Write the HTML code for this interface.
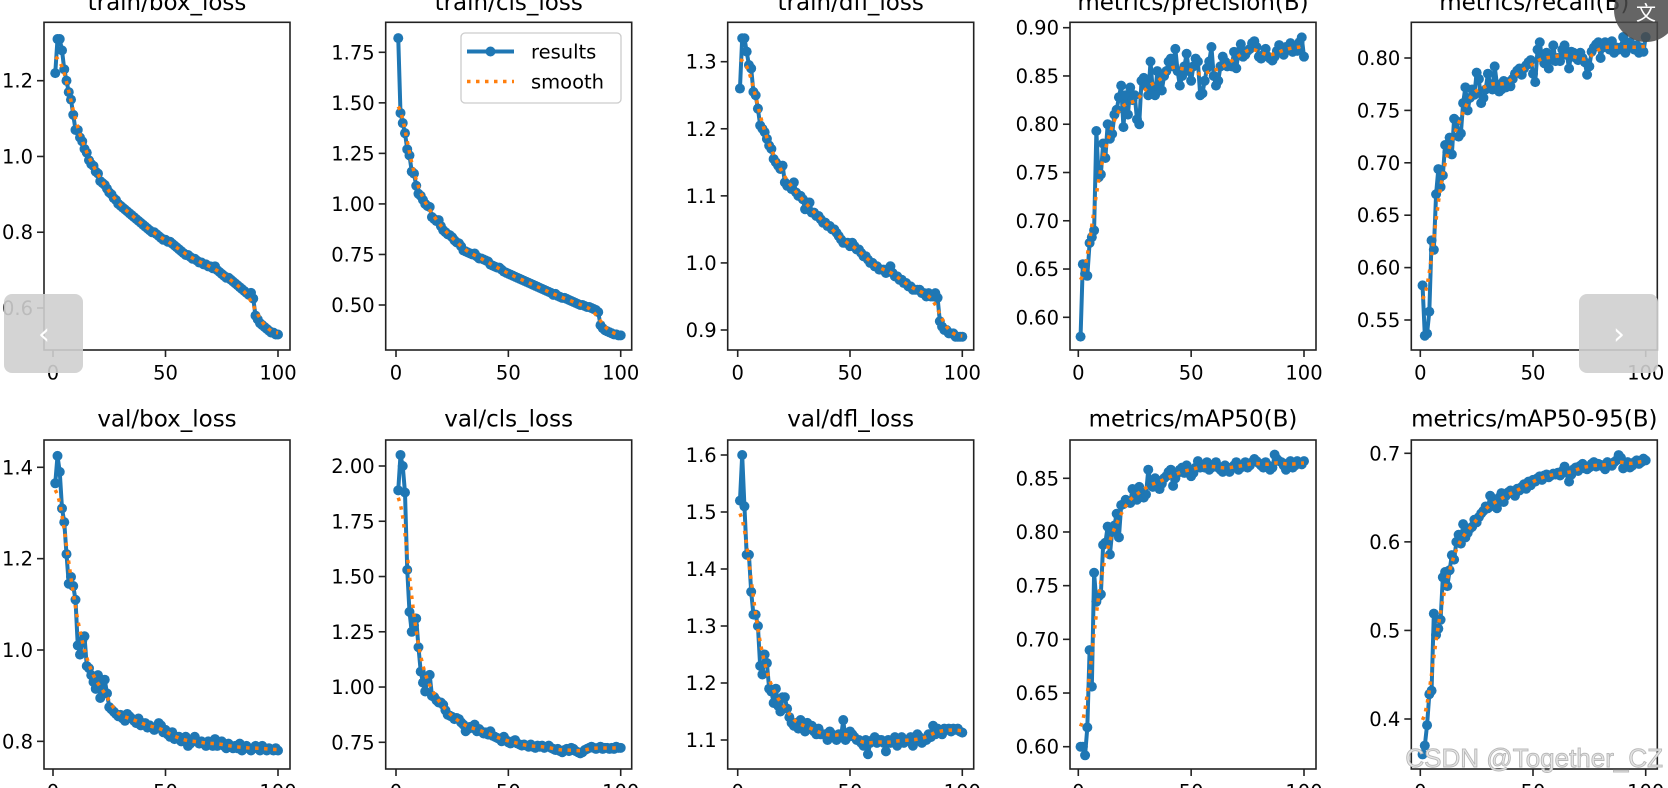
<!DOCTYPE html>
<html><head><meta charset="utf-8"><style>
html,body{margin:0;padding:0;background:#fff;width:1668px;height:788px;overflow:hidden}
svg{display:block;font-family:"DejaVu Sans","Liberation Sans",sans-serif}
</style></head><body>
<svg id="chart" width="1668" height="788" viewBox="0 0 1668 788" xmlns="http://www.w3.org/2000/svg">
<defs id="defs"></defs>
<g id="panels"></g>
<g>
  <rect x="461" y="33" width="160" height="70" rx="4" fill="#fff" fill-opacity="0.8" stroke="#ccc" stroke-width="1.3"/>
  <line x1="467" y1="51.5" x2="514" y2="51.5" stroke="#1f77b4" stroke-width="4"/>
  <circle cx="490.5" cy="51.5" r="5" fill="#1f77b4"/>
  <text x="531" y="58.5" font-size="19.5" fill="#000">results</text>
  <line x1="467" y1="81.5" x2="514" y2="81.5" stroke="#ff7f0e" stroke-width="3.5" stroke-dasharray="3.5,5.5"/>
  <text x="531" y="88.5" font-size="19.5" fill="#000">smooth</text>
</g>
<g>
  <rect x="4" y="294" width="79" height="79" rx="8" fill="#cfcfcf" fill-opacity="0.9"/>
  <text x="44" y="344" font-size="30" fill="#fff" text-anchor="middle">‹</text>
</g>
<g>
  <rect x="1579" y="294" width="79" height="79" rx="8" fill="#cfcfcf" fill-opacity="0.9"/>
  <text x="1619" y="344" font-size="30" fill="#fff" text-anchor="middle">›</text>
</g>
<g>
  <circle cx="1646" cy="10" r="32" fill="#4a4a4a" fill-opacity="0.85"/>
  <text x="1646" y="20" font-size="20" fill="#fff" text-anchor="middle" font-family="'Noto Sans CJK SC',sans-serif">文</text>
</g>
<text x="1663" y="767" font-size="26" text-anchor="end" fill="#e6e6e6" stroke="#b8b8b8" stroke-width="0.9" font-family="'Liberation Sans',sans-serif">CSDN @Together_CZ</text>
</svg>
<script>
const trainBox = [1.22,1.31,1.31,1.28,1.23,1.20,1.17,1.15,1.11,1.07,
1.07,1.05,1.04,1.02,1.01,0.99,0.98,0.975,0.96,0.955,
0.935,0.93,0.925,0.915,0.905,0.90,0.89,0.885,0.875,0.87,
0.865,0.86,0.855,0.85,0.845,0.84,0.835,0.83,0.825,0.82,
0.815,0.81,0.805,0.80,0.80,0.795,0.79,0.785,0.78,0.78,
0.775,0.775,0.77,0.765,0.76,0.755,0.75,0.745,0.74,0.74,
0.735,0.73,0.73,0.725,0.72,0.72,0.715,0.715,0.71,0.71,
0.705,0.71,0.70,0.695,0.69,0.685,0.68,0.68,0.675,0.67,
0.665,0.66,0.655,0.65,0.645,0.64,0.635,0.64,0.625,0.58,
0.57,0.56,0.555,0.55,0.545,0.54,0.535,0.535,0.53,0.53];
const trainCls = [1.82,1.45,1.40,1.35,1.27,1.24,1.16,1.15,1.09,1.05,
1.04,1.02,1.00,0.99,0.985,0.935,0.925,0.915,0.92,0.89,
0.87,0.86,0.85,0.845,0.835,0.82,0.81,0.805,0.79,0.77,
0.765,0.76,0.755,0.75,0.755,0.74,0.73,0.73,0.725,0.72,
0.715,0.70,0.695,0.69,0.685,0.685,0.675,0.665,0.66,0.655,
0.65,0.645,0.64,0.635,0.63,0.625,0.62,0.615,0.61,0.605,
0.60,0.595,0.59,0.585,0.58,0.575,0.57,0.565,0.56,0.55,
0.555,0.545,0.54,0.535,0.535,0.53,0.525,0.52,0.515,0.51,
0.505,0.50,0.50,0.495,0.49,0.49,0.485,0.48,0.475,0.465,
0.40,0.385,0.375,0.37,0.365,0.36,0.355,0.355,0.35,0.35];
const trainDfl = [1.26,1.335,1.335,1.315,1.295,1.29,1.255,1.25,1.23,1.205,
1.20,1.195,1.185,1.175,1.17,1.155,1.15,1.145,1.14,1.145,
1.12,1.115,1.115,1.11,1.12,1.105,1.10,1.10,1.095,1.08,
1.09,1.09,1.075,1.075,1.07,1.07,1.065,1.06,1.06,1.055,
1.055,1.05,1.05,1.045,1.04,1.035,1.03,1.03,1.03,1.025,
1.03,1.025,1.02,1.02,1.015,1.01,1.01,1.005,1.00,1.00,
0.995,0.995,0.99,0.99,0.99,0.985,0.99,0.995,0.985,0.98,
0.98,0.975,0.975,0.97,0.97,0.965,0.965,0.96,0.96,0.96,
0.96,0.955,0.955,0.95,0.955,0.95,0.95,0.955,0.948,0.913,
0.905,0.90,0.90,0.895,0.895,0.895,0.89,0.89,0.89,0.89];
const precision = [0.58,0.655,0.645,0.643,0.677,0.683,0.69,0.793,0.745,0.748,
0.78,0.765,0.80,0.785,0.79,0.81,0.815,0.828,0.84,0.797,
0.83,0.81,0.838,0.825,0.83,0.805,0.80,0.845,0.848,0.84,
0.83,0.865,0.835,0.83,0.855,0.84,0.835,0.85,0.855,0.865,
0.868,0.86,0.878,0.855,0.84,0.85,0.86,0.873,0.855,0.845,
0.86,0.868,0.865,0.83,0.832,0.845,0.858,0.865,0.88,0.85,
0.84,0.845,0.86,0.87,0.865,0.86,0.862,0.86,0.875,0.858,
0.875,0.883,0.87,0.872,0.876,0.878,0.884,0.886,0.88,0.87,
0.868,0.872,0.878,0.87,0.868,0.866,0.87,0.876,0.882,0.875,
0.872,0.88,0.878,0.884,0.875,0.88,0.876,0.885,0.89,0.87];
const recall = [0.583,0.535,0.537,0.558,0.626,0.617,0.67,0.694,0.677,0.688,
0.717,0.71,0.724,0.708,0.742,0.74,0.725,0.728,0.757,0.772,
0.75,0.762,0.77,0.765,0.786,0.78,0.757,0.762,0.77,0.785,
0.775,0.77,0.792,0.775,0.768,0.77,0.778,0.772,0.777,0.773,
0.78,0.785,0.788,0.79,0.784,0.79,0.793,0.796,0.798,0.785,
0.777,0.808,0.815,0.80,0.795,0.805,0.79,0.80,0.812,0.797,
0.80,0.797,0.808,0.812,0.803,0.79,0.806,0.805,0.80,0.798,
0.805,0.80,0.796,0.784,0.792,0.806,0.81,0.813,0.815,0.80,
0.81,0.815,0.812,0.808,0.816,0.805,0.81,0.808,0.81,0.82,
0.805,0.81,0.815,0.81,0.808,0.812,0.805,0.81,0.806,0.82];
const valBox = [1.365,1.425,1.39,1.31,1.28,1.21,1.145,1.16,1.14,1.11,
1.01,0.99,1.02,1.03,0.965,0.96,0.945,0.93,0.915,0.945,
0.895,0.92,0.935,0.905,0.875,0.87,0.865,0.86,0.855,0.858,
0.85,0.845,0.86,0.855,0.85,0.845,0.84,0.85,0.835,0.84,
0.84,0.83,0.835,0.83,0.825,0.83,0.84,0.835,0.82,0.825,
0.815,0.81,0.82,0.805,0.81,0.81,0.80,0.805,0.81,0.79,
0.795,0.80,0.81,0.80,0.795,0.80,0.795,0.79,0.80,0.795,
0.79,0.805,0.79,0.795,0.80,0.79,0.785,0.795,0.79,0.785,
0.79,0.785,0.795,0.78,0.785,0.79,0.785,0.78,0.785,0.79,
0.785,0.78,0.79,0.785,0.78,0.785,0.782,0.78,0.785,0.78];
const valCls = [1.89,2.05,2.00,1.88,1.53,1.34,1.25,1.28,1.31,1.18,
1.07,1.02,0.98,1.045,1.055,0.96,0.955,0.94,0.93,0.93,
0.92,0.895,0.875,0.87,0.865,0.855,0.86,0.855,0.84,0.83,
0.80,0.81,0.82,0.815,0.83,0.80,0.81,0.80,0.79,0.795,
0.785,0.80,0.78,0.775,0.77,0.765,0.755,0.775,0.76,0.75,
0.745,0.755,0.76,0.745,0.74,0.735,0.74,0.735,0.73,0.74,
0.73,0.725,0.735,0.73,0.735,0.725,0.73,0.735,0.725,0.72,
0.715,0.72,0.71,0.705,0.715,0.72,0.71,0.725,0.72,0.71,
0.705,0.70,0.705,0.715,0.72,0.725,0.73,0.725,0.72,0.725,
0.73,0.72,0.725,0.725,0.72,0.725,0.72,0.73,0.725,0.725];
const valDfl = [1.52,1.60,1.51,1.425,1.425,1.36,1.32,1.32,1.30,1.23,
1.215,1.25,1.235,1.19,1.185,1.165,1.19,1.16,1.15,1.175,
1.175,1.155,1.14,1.13,1.125,1.13,1.12,1.135,1.13,1.115,
1.13,1.12,1.125,1.115,1.11,1.12,1.11,1.11,1.11,1.10,
1.115,1.11,1.105,1.10,1.11,1.105,1.135,1.10,1.105,1.115,
1.11,1.105,1.10,1.10,1.095,1.09,1.10,1.075,1.095,1.10,
1.105,1.095,1.10,1.10,1.095,1.08,1.10,1.095,1.10,1.105,
1.09,1.10,1.105,1.095,1.10,1.10,1.105,1.09,1.10,1.11,
1.105,1.095,1.10,1.10,1.11,1.105,1.125,1.11,1.12,1.115,
1.11,1.12,1.118,1.12,1.115,1.12,1.118,1.12,1.115,1.113];
const map50 = [0.60,0.60,0.592,0.618,0.69,0.656,0.762,0.735,0.74,0.742,
0.788,0.79,0.805,0.779,0.80,0.806,0.817,0.795,0.825,0.826,
0.83,0.828,0.827,0.84,0.835,0.83,0.842,0.838,0.832,0.835,
0.858,0.845,0.842,0.85,0.845,0.84,0.845,0.85,0.852,0.856,
0.858,0.843,0.85,0.855,0.858,0.86,0.855,0.862,0.858,0.852,
0.855,0.86,0.866,0.86,0.862,0.86,0.865,0.858,0.86,0.862,
0.865,0.86,0.858,0.856,0.862,0.86,0.856,0.86,0.862,0.865,
0.858,0.86,0.862,0.865,0.86,0.862,0.865,0.868,0.866,0.864,
0.862,0.86,0.865,0.862,0.858,0.86,0.872,0.868,0.866,0.865,
0.862,0.858,0.864,0.866,0.86,0.862,0.866,0.864,0.863,0.866];
const map5095 = [0.36,0.37,0.393,0.428,0.432,0.519,0.495,0.502,0.512,0.56,
0.566,0.55,0.568,0.585,0.58,0.60,0.608,0.598,0.62,0.605,
0.61,0.615,0.617,0.625,0.622,0.628,0.632,0.635,0.64,0.638,
0.652,0.645,0.64,0.638,0.65,0.655,0.645,0.652,0.656,0.658,
0.655,0.652,0.66,0.658,0.662,0.665,0.66,0.668,0.664,0.67,
0.668,0.672,0.674,0.67,0.675,0.676,0.673,0.675,0.677,0.676,
0.678,0.675,0.68,0.685,0.678,0.668,0.676,0.682,0.684,0.68,
0.686,0.688,0.683,0.682,0.684,0.688,0.69,0.685,0.688,0.687,
0.685,0.682,0.69,0.688,0.686,0.69,0.692,0.698,0.695,0.683,
0.688,0.69,0.684,0.686,0.69,0.692,0.688,0.69,0.694,0.692];

const titles = ["train/box_loss","train/cls_loss","train/dfl_loss","metrics/precision(B)","metrics/recall(B)",
"val/box_loss","val/cls_loss","val/dfl_loss","metrics/mAP50(B)","metrics/mAP50-95(B)"];
const xTicks = [0,50,100];
const yTicks1 = [0.6,0.8,1.0,1.2];
const yTicks2 = [0.5,0.75,1.0,1.25,1.5,1.75];
const yTicks3 = [0.9,1.0,1.1,1.2,1.3];
const yTicks4 = [0.60,0.65,0.70,0.75,0.80,0.85,0.90];
const yTicks5 = [0.55,0.60,0.65,0.70,0.75,0.80];
const yTicks6 = [0.8,1.0,1.2,1.4];
const yTicks7 = [0.75,1.0,1.25,1.5,1.75,2.0];
const yTicks8 = [1.1,1.2,1.3,1.4,1.5,1.6];
const yTicks9 = [0.60,0.65,0.70,0.75,0.80,0.85];
const yTicks10 = [0.4,0.5,0.6,0.7];
const tickDecimals = [1,2,1,2,2,1,2,1,2,1];

const NS = "http://www.w3.org/2000/svg";
function mk(tag, attrs, parent){const e=document.createElementNS(NS,tag);for(const k in attrs)e.setAttribute(k,attrs[k]);if(parent)parent.appendChild(e);return e;}
function gauss(y, s){
  const r=Math.ceil(4*s), w=[];let sum=0;
  for(let i=-r;i<=r;i++){const v=Math.exp(-0.5*i*i/(s*s));w.push(v);sum+=v;}
  const n=y.length;
  return y.map((_,i)=>{let a=0;for(let j=-r;j<=r;j++){let k=i+j;while(k<0||k>=n){if(k<0)k=-k-1;if(k>=n)k=2*n-k-1;}a+=w[j+r]*y[k];}return a/sum;});
}
const lefts=[44,385.7,727.7,1070,1411.3];
const rowTop=[22.3,440], rowBot=[350,769];
const x0px=[53,396,737.7,1078.3,1420.3], x100px=[278,620.7,962.3,1304,1645.7];
const yRef=[[1.2,80.7,0.6,308],[1.75,52.3,0.5,305],[1.3,61.7,0.9,330],[0.9,27.7,0.6,317.3],[0.8,58,0.55,320],
[1.4,467.3,1.0,650],[2.0,466,0.75,742.3],[1.6,455,1.1,740],[0.85,478.3,0.6,746.7],[0.7,453.3,0.4,719]];
const series=[trainBox,trainCls,trainDfl,precision,recall,valBox,valCls,valDfl,map50,map5095];
const yTickSets=[yTicks1,yTicks2,yTicks3,yTicks4,yTicks5,yTicks6,yTicks7,yTicks8,yTicks9,yTicks10];
const names=["train-box-loss","train-cls-loss","train-dfl-loss","precision","recall","val-box-loss","val-cls-loss","val-dfl-loss","map50","map50-95"];
const root=document.getElementById("panels"), defs=document.getElementById("defs");
for(let p=0;p<10;p++){
  const col=p%5,row=Math.floor(p/5);
  const L=lefts[col],R=L+246,T=rowTop[row],B=rowBot[row];
  const xs=v=>x0px[col]+(x100px[col]-x0px[col])*v/100;
  const r=yRef[p];
  const ys=v=>r[1]+(v-r[0])*(r[3]-r[1])/(r[2]-r[0]);
  const g=mk("g",{},root);
  
  
  const cp=mk("clipPath",{id:"cp"+p},defs);mk("rect",{x:L,y:T,width:R-L,height:B-T},cp);
  const t=mk("text",{x:(L+R)/2,y:row===0?10:426.5,"font-size":23,"text-anchor":"middle",fill:"#000"},g);
  t.textContent=titles[p];
  
  
  const data=series[p];
  const epochs=data.map((_,i)=>i+1);
  const plot=mk("g",{"clip-path":"url(#cp"+p+")"},g);
  const pts=data.map((v,i)=>xs(epochs[i]).toFixed(2)+","+ys(v).toFixed(2)).join(" ");
  const line=mk("polyline",{points:pts,fill:"none",stroke:"#1f77b4","stroke-width":4,"stroke-linejoin":"round"},plot);
  
  
  data.forEach((v,i)=>{const c=mk("circle",{cx:xs(epochs[i]),cy:ys(v),r:5,fill:"#1f77b4"},plot);
    
    });
  const sm=gauss(data,3);
  const sp=mk("polyline",{points:sm.map((v,i)=>xs(epochs[i]).toFixed(2)+","+ys(v).toFixed(2)).join(" "),fill:"none",stroke:"#ff7f0e","stroke-width":3.5,"stroke-dasharray":"3.5,5.5"},plot);
  
  
  const fr=mk("rect",{x:L,y:T,width:R-L,height:B-T,fill:"none",stroke:"#222","stroke-width":1.6},g);
  
  
  xTicks.forEach(v=>{const x=xs(v);mk("line",{x1:x,y1:B,x2:x,y2:B+7,stroke:"#222","stroke-width":1.6},g);
    const tx=mk("text",{x:x,y:B+29.5,"font-size":19.5,"text-anchor":"middle",fill:"#000"},g);tx.textContent=String(v);
    
    });
  yTickSets[p].forEach(v=>{const y=ys(v);mk("line",{x1:L-7,y1:y,x2:L,y2:y,stroke:"#222","stroke-width":1.6},g);
    const ty=mk("text",{x:L-11,y:y+7,"font-size":19.5,"text-anchor":"end",fill:"#000"},g);ty.textContent=v.toFixed(tickDecimals[p]);
    
    });
}
</script>
</body></html>
